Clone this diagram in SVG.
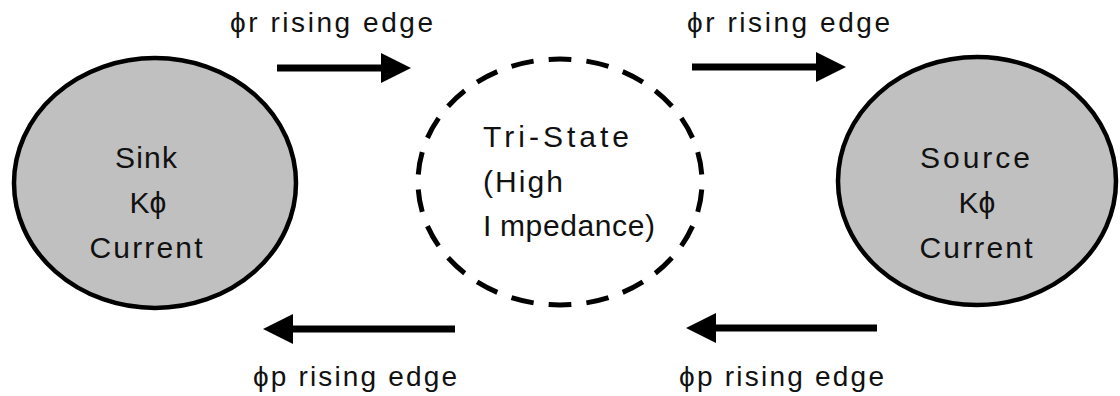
<svg xmlns="http://www.w3.org/2000/svg" width="1120" height="396" viewBox="0 0 1120 396">
  <style>
    .state { fill: #c0c0c0; stroke: #000; stroke-width: 4.5; }
    .hiz { fill: none; stroke: #000; stroke-width: 5; stroke-dasharray: 6 4; stroke-dashoffset: 8; }
    .txt { font-family: "Liberation Sans", Arial, sans-serif; font-size: 30px; fill: #111; }
    .lbl { font-family: "Liberation Sans", Arial, sans-serif; font-size: 28px; fill: #111; }
    .arrow { stroke: #000; stroke-width: 7; fill: none; }
  </style>
  <defs>
    <marker id="head" viewBox="0 0 30 30" markerWidth="30" markerHeight="30" refX="0" refY="15" markerUnits="userSpaceOnUse" orient="auto">
      <path d="M0,0 L30,15 L0,30 Z" fill="#000"/>
    </marker>
  </defs>
  <rect width="1120" height="396" fill="#fff"/>

  <!-- sink state -->
  <g id="sink">
    <ellipse class="state" cx="155" cy="183" rx="141" ry="125"/>
    <text class="txt" x="146" y="168" text-anchor="middle" textLength="62">Sink</text>
    <text class="txt" x="148" y="213" text-anchor="middle">Kϕ</text>
    <text class="txt" x="146" y="258" text-anchor="middle" textLength="113">Current</text>
  </g>

  <!-- high impedance state -->
  <g id="tristate">
    <ellipse class="hiz" cx="560" cy="182" rx="142" ry="123" pathLength="220"/>
    <text class="txt" x="483" y="147" textLength="146">Tri-State</text>
    <text class="txt" x="483" y="192" textLength="80">(High</text>
    <text class="txt" x="483" y="236" textLength="172">I<tspan dx="8">mpedance)</tspan></text>
  </g>

  <!-- source state -->
  <g id="source">
    <ellipse class="state" cx="977" cy="181" rx="139" ry="124"/>
    <text class="txt" x="975" y="168" text-anchor="middle" textLength="110">Source</text>
    <text class="txt" x="977" y="213" text-anchor="middle">Kϕ</text>
    <text class="txt" x="976" y="258" text-anchor="middle" textLength="113">Current</text>
  </g>

  <!-- transitions -->
  <g id="connectors">
    <line class="arrow" x1="277" y1="68" x2="381" y2="68" marker-end="url(#head)"/>
    <line class="arrow" x1="692" y1="67" x2="816" y2="67" marker-end="url(#head)"/>
    <line class="arrow" x1="455" y1="329" x2="293" y2="329" marker-end="url(#head)"/>
    <line class="arrow" x1="877" y1="328" x2="716" y2="328" marker-end="url(#head)"/>
    <text class="lbl" x="230" y="32" textLength="203">ϕr rising edge</text>
    <text class="lbl" x="687" y="32" textLength="203">ϕr rising edge</text>
    <text class="lbl" x="253" y="386" textLength="204">ϕp rising edge</text>
    <text class="lbl" x="679" y="386" textLength="205">ϕp rising edge</text>
  </g>
</svg>
